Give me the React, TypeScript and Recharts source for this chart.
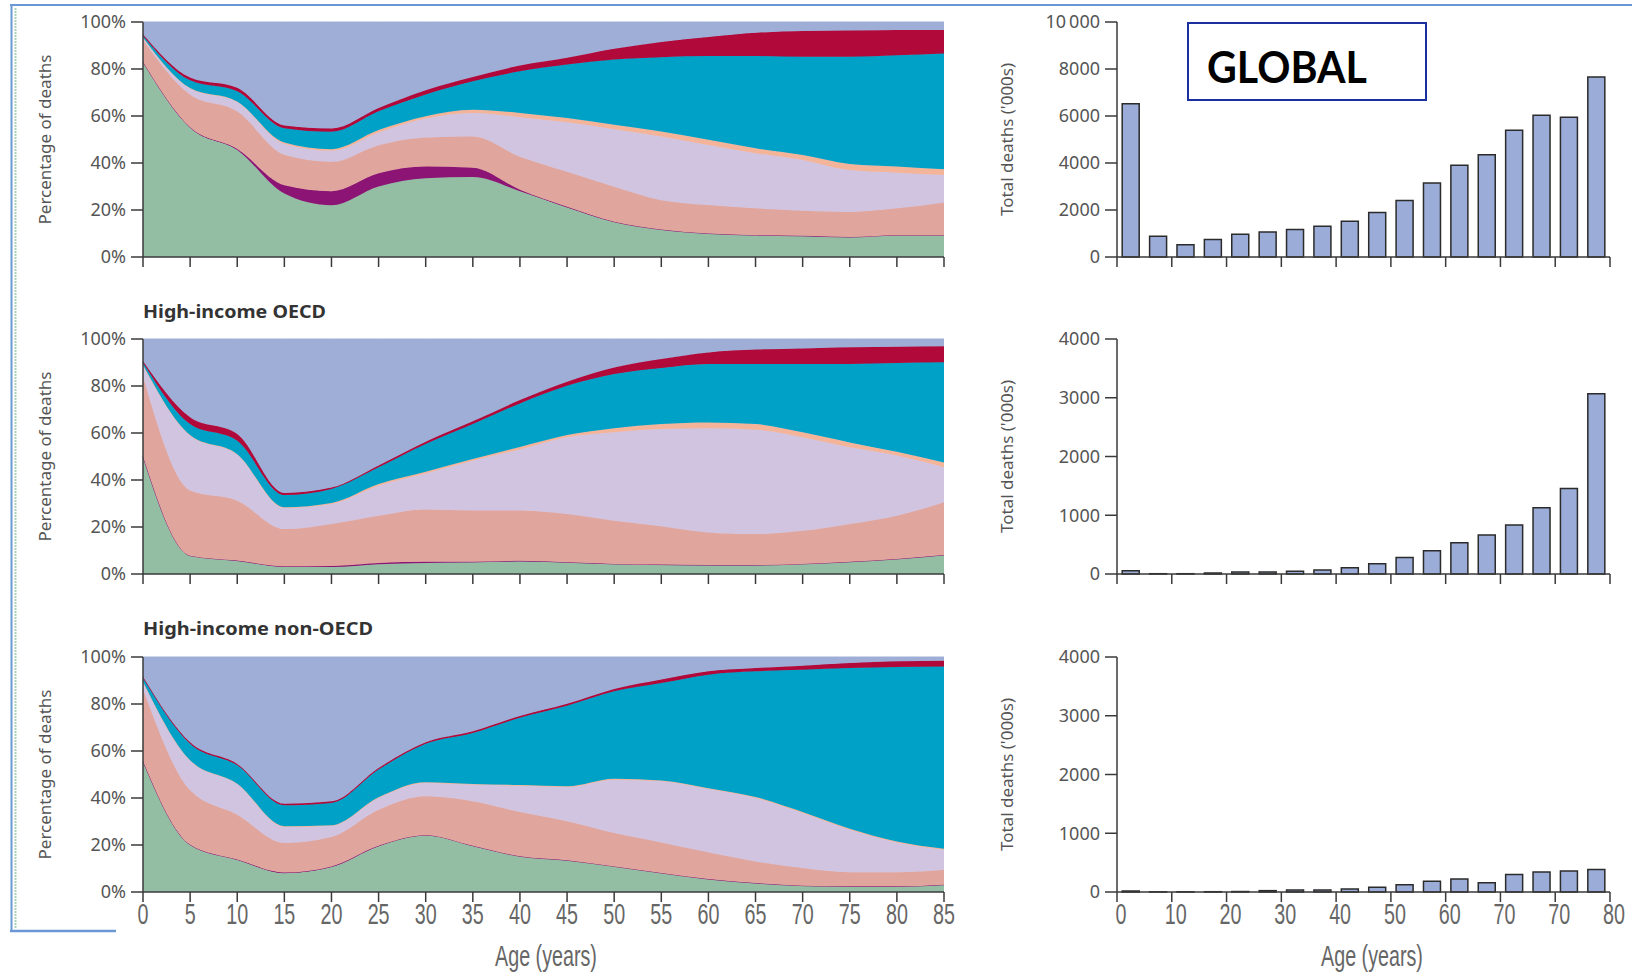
import { AreaChart, Area, BarChart, Bar, XAxis, YAxis } from "recharts";

// age groups (start of each 5-year band)
const ages = [0, 5, 10, 15, 20, 25, 30, 35, 40, 45, 50, 55, 60, 65, 70, 75, 80, 85];

// share of deaths by cause group, % (bottom layer first)
const globalGreen = [83, 55, 45.5, 27, 22, 30, 33.5, 34, 28, 21.1, 15, 11.7, 10, 9.3, 9, 8.5, 9.3, 9.3];
const globalPurple = [0, 0.2, 0.5, 3.5, 6, 5.6, 5, 4, 0.6, 0.3, 0, 0, 0, 0, 0, 0, 0, 0];
const globalSalmon = [9.5, 14, 16, 13, 12.5, 12, 12.4, 13.3, 14.1, 14.9, 14.9, 12.5, 12.1, 11.4, 10.7, 10.7, 11.4, 13.9];
const globalLavender = [0.7, 2.5, 4, 4.6, 4.7, 5.4, 8, 10, 16.8, 21, 24.5, 27.1, 25.6, 23.5, 21.6, 17.8, 15.2, 11.7];
const globalPeach = [0.2, 0.2, 0.2, 0.6, 0.7, 1, 1, 1.4, 1.8, 1.8, 1.9, 2.1, 2.2, 2.1, 2.1, 2.6, 2.6, 2.4];
const globalTeal = [0.8, 3.3, 4.3, 6.1, 7.4, 8, 9.3, 12.1, 17.7, 22.8, 27.7, 31.6, 35.6, 39.2, 41.8, 45.6, 47.3, 49.3];
const globalCrimson = [0.6, 1.2, 1.5, 1.2, 1.4, 1.4, 1.8, 1.8, 2.5, 2.9, 4.6, 6.5, 8.1, 9.9, 11, 11.2, 10.8, 10];
const globalOther = [5.2, 23.6, 28, 44, 45.3, 36.6, 29, 23.4, 18.5, 15.2, 11.4, 8.5, 6.4, 4.6, 3.8, 3.6, 3.4, 3.4];

const oecdGreen = [50, 7.8, 5.7, 3.1, 3, 4.2, 4.7, 5, 5.4, 5, 4.3, 4, 3.8, 3.8, 4.3, 5.2, 6.4, 8.1];
const oecdPurple = [0, 0, 0, 0.2, 0.4, 0.5, 0.5, 0.2, 0.2, 0, 0, 0, 0, 0, 0, 0, 0, 0];
const oecdSalmon = [34, 27.7, 25.5, 15.8, 17.9, 20.1, 22.2, 21.8, 21.4, 20.5, 18.4, 16.3, 13.9, 13.2, 14.1, 16.1, 18.4, 22.4];
const oecdLavender = [5, 23.4, 19.6, 9, 8.5, 12.8, 15.4, 21.2, 26, 32.7, 37.6, 41.4, 44.3, 44.4, 39.8, 32.6, 25.6, 14.9];
const oecdPeach = [0, 0.2, 0.2, 0.3, 0.4, 0.7, 0.7, 0.7, 1, 0.9, 1.7, 2.1, 2.5, 2.4, 2.1, 2.1, 1.6, 2.1];
const oecdTeal = [1, 4.7, 5.7, 5.2, 6, 7.1, 11.8, 14.9, 18.6, 21, 23.1, 23.9, 24.9, 25.6, 29.1, 33.4, 37.8, 42.6];
const oecdCrimson = [0.6, 2.9, 2.9, 0.9, 0.6, 0.8, 1, 1.2, 1.4, 1.7, 2.8, 3.8, 4.9, 6.1, 6.6, 7.1, 6.9, 6.8];
const oecdOther = [9.4, 33.3, 40.4, 65.5, 63.2, 53.8, 43.7, 35, 26, 18.2, 12.1, 8.5, 5.7, 4.5, 4, 3.5, 3.3, 3.1];

const nonOecdGreen = [55.6, 20.1, 13.8, 8, 10.6, 19.5, 24, 19.6, 15.2, 13.5, 10.9, 8.1, 5.5, 3.8, 2.7, 2.4, 2.4, 3.1];
const nonOecdPurple = [0, 0, 0, 0.3, 0.3, 0.2, 0.2, 0.1, 0, 0, 0, 0, 0, 0, 0, 0, 0, 0];
const nonOecdSalmon = [30.8, 23.2, 19.1, 12.6, 12.5, 15.3, 16.5, 18.9, 18.8, 16.6, 14.2, 13, 11.4, 9.2, 7.5, 6, 6, 6.4];
const nonOecdLavender = [3.2, 12.7, 13.1, 6.8, 4.8, 5, 5.7, 7.1, 11.2, 14.6, 22.7, 26, 26.9, 27, 23.4, 18.1, 12.7, 8.5];
const nonOecdPeach = [0, 0.1, 0.1, 0.3, 0.2, 0.3, 0.3, 0.3, 0.3, 0.3, 0.4, 0.4, 0.4, 0.4, 0.4, 0.4, 0.4, 0.4];
const nonOecdTeal = [1.5, 7, 7.8, 8.9, 9.5, 11.8, 16.4, 21.7, 28.7, 34.3, 37.2, 41.4, 48.3, 53.5, 60.6, 68.4, 74.2, 77.6];
const nonOecdCrimson = [0.5, 0.6, 0.6, 0.7, 0.7, 0.7, 0.6, 0.7, 0.7, 0.8, 1, 1.5, 1.4, 1.4, 1.7, 2.1, 2.5, 2.4];
const nonOecdOther = [8.4, 36.3, 45.5, 62.4, 61.4, 47.2, 36.3, 31.6, 25.1, 19.9, 13.6, 9.6, 6.1, 4.7, 3.7, 2.6, 1.8, 1.6];

// total deaths ('000s) per age group
const globalDeaths = [6525, 880, 525, 740, 965, 1065, 1165, 1305, 1520, 1890, 2400, 3150, 3900, 4355, 5390, 6030, 5945, 7660];
const oecdDeaths = [56, 5, 5, 17, 34, 34, 45, 68, 107, 175, 282, 394, 530, 665, 834, 1127, 1454, 3070];
const nonOecdDeaths = [17, 3, 3, 5, 8, 23, 34, 34, 51, 79, 124, 181, 221, 158, 300, 340, 356, 385];

const shareTicks = [0, 0.2, 0.4, 0.6, 0.8, 1];
const globalBarTicks = [0, 2000, 4000, 6000, 8000, 10000];
const regionBarTicks = [0, 1000, 2000, 3000, 4000];
// labels as printed under the bar panels, one every two bars
const barAxisLabels = ["0", "10", "20", "30", "40", "50", "60", "70", "70", "80"];

const layerKeys = ["green", "purple", "salmon", "lavender", "peach", "teal", "crimson", "other"];
const layerColors: Record<string, string> = {
  green: "#93bea4",
  purple: "#8b1474",
  salmon: "#e0a69e",
  lavender: "#d1c4e1",
  peach: "#f4b49a",
  teal: "#00a1c7",
  crimson: "#b0093a",
  other: "#9eaed6",
};

const AXIS = "#3a3a3a";
const GRAY = "#555";
const CONDENSED = "'Liberation Sans', Arial, sans-serif";

function makeRows(layers: number[][]) {
  return ages.map((age, i) => {
    const row: Record<string, number> = { age };
    layerKeys.forEach((k, j) => {
      row[k] = layers[j][i];
    });
    return row;
  });
}

const globalRows = makeRows([globalGreen, globalPurple, globalSalmon, globalLavender, globalPeach, globalTeal, globalCrimson, globalOther]);
const oecdRows = makeRows([oecdGreen, oecdPurple, oecdSalmon, oecdLavender, oecdPeach, oecdTeal, oecdCrimson, oecdOther]);
const nonOecdRows = makeRows([nonOecdGreen, nonOecdPurple, nonOecdSalmon, nonOecdLavender, nonOecdPeach, nonOecdTeal, nonOecdCrimson, nonOecdOther]);

function EmptyTick() {
  return <g />;
}

function condensedText(x: number, baseline: number, text: string) {
  return (
    <text
      transform={`translate(${x},${baseline}) scale(0.68,1)`}
      textAnchor="middle"
      fill="#666"
      fontSize={29}
      fontFamily={CONDENSED}
    >
      {text}
    </text>
  );
}

function AgeTick(props: any) {
  const { x, y, payload } = props;
  return condensedText(x, y + 20, String(payload.value));
}

// bar panels: tick marks sit on the band edges every second bar
function makeBarTick(showLabels: boolean) {
  return function BarTick(props: any) {
    const { x, y, payload } = props;
    const index = props.index ?? payload.index ?? 0;
    const half = payload.offset || 0;
    const marks: { x: number; label: string }[] = [];
    if (index % 2 === 0) marks.push({ x: x - half, label: barAxisLabels[index / 2] });
    if (index === ages.length - 1) marks.push({ x: x + half, label: barAxisLabels[barAxisLabels.length - 1] });
    return (
      <g>
        {marks.map((m) => (
          <g key={m.x}>
            <line x1={m.x} y1={y} x2={m.x} y2={y + 10} stroke={AXIS} strokeWidth={1.5} />
            {showLabels && condensedText(m.x + 4, y + 32, m.label)}
          </g>
        ))}
      </g>
    );
  };
}

function ShareChart({ rows, top, showAges }: { rows: any[]; top: number; showAges: boolean }) {
  const height = showAges ? 330 : 290;
  return (
    <div style={{ position: "absolute", left: 0, top }}>
      <AreaChart
        width={960}
        height={height}
        data={rows}
        stackOffset="expand"
        margin={{ top: 22, right: 16, bottom: height - 257 - 30, left: 0 }}
      >
        <XAxis
          dataKey="age"
          type="number"
          domain={[0, 85]}
          ticks={ages}
          interval={0}
          height={30}
          tickSize={10}
          stroke={AXIS}
          strokeWidth={1.5}
          tick={showAges ? AgeTick : EmptyTick}
        />
        <YAxis
          width={143}
          domain={[0, 1]}
          ticks={shareTicks}
          tickFormatter={(v: number) => `${Math.round(v * 100)}%`}
          tickSize={12}
          tickMargin={5}
          stroke={AXIS}
          strokeWidth={1.5}
          tick={{ fill: GRAY, fontSize: 18 }}
          label={{
            value: "Percentage of deaths",
            angle: -90,
            position: "insideLeft",
            offset: 45,
            style: { textAnchor: "middle", fill: GRAY, fontSize: 17 },
          }}
        />
        {layerKeys.map((k) => (
          <Area
            key={k}
            dataKey={k}
            stackId="1"
            type="monotone"
            fill={layerColors[k]}
            fillOpacity={1}
            stroke={layerColors[k]}
            strokeWidth={1}
            isAnimationActive={false}
          />
        ))}
      </AreaChart>
    </div>
  );
}

function DeathsChart({
  deaths,
  max,
  ticks,
  top,
  showAges,
}: {
  deaths: number[];
  max: number;
  ticks: number[];
  top: number;
  showAges: boolean;
}) {
  const height = showAges ? 330 : 290;
  const data = ages.map((age, i) => ({ age, deaths: deaths[i] }));
  return (
    <div style={{ position: "absolute", left: 960, top }}>
      <BarChart
        width={672}
        height={height}
        data={data}
        barCategoryGap="19%"
        margin={{ top: 22, right: 22, bottom: height - 257 - 30, left: 0 }}
      >
        <XAxis
          dataKey="age"
          interval={0}
          height={30}
          tickSize={0}
          tickMargin={0}
          tickLine={false}
          stroke={AXIS}
          strokeWidth={1.5}
          tick={makeBarTick(showAges)}
        />
        <YAxis
          width={157}
          domain={[0, max]}
          ticks={ticks}
          interval={0}
          tickFormatter={(v: number) => (v >= 10000 ? "10\u2009000" : String(v))}
          tickSize={12}
          tickMargin={5}
          stroke={AXIS}
          strokeWidth={1.5}
          tick={{ fill: GRAY, fontSize: 18 }}
          label={{
            value: "Total deaths ('000s)",
            angle: -90,
            position: "insideLeft",
            offset: 47,
            style: { textAnchor: "middle", fill: GRAY, fontSize: 17 },
          }}
        />
        <Bar dataKey="deaths" fill="#9cacd8" stroke="#2b2b2b" strokeWidth={1.5} isAnimationActive={false} />
      </BarChart>
    </div>
  );
}

export default function App() {
  return (
    <div
      style={{
        position: "absolute",
        left: 0,
        top: 0,
        width: 1632,
        height: 977,
        background: "#fff",
        fontFamily: "'Noto Sans', sans-serif",
        overflow: "hidden",
      }}
    >
      <ShareChart rows={globalRows} top={0} showAges={false} />
      <ShareChart rows={oecdRows} top={317} showAges={false} />
      <ShareChart rows={nonOecdRows} top={635} showAges={true} />

      <DeathsChart deaths={globalDeaths} max={10000} ticks={globalBarTicks} top={0} showAges={false} />
      <DeathsChart deaths={oecdDeaths} max={4000} ticks={regionBarTicks} top={317} showAges={false} />
      <DeathsChart deaths={nonOecdDeaths} max={4000} ticks={regionBarTicks} top={635} showAges={true} />

      <svg width={1632} height={977} style={{ position: "absolute", left: 0, top: 0, pointerEvents: "none" }}>
        {/* slide frame */}
        <line x1={10} y1={5} x2={1632} y2={5} stroke="#6a98d4" strokeWidth={2} />
        <line x1={11.5} y1={5} x2={11.5} y2={931} stroke="#6a98d4" strokeWidth={2} />
        <line x1={10} y1={931} x2={116} y2={931} stroke="#6a98d4" strokeWidth={2.5} />
        <line x1={15.5} y1={8} x2={15.5} y2={929} stroke="#a9d4b6" strokeWidth={2} strokeDasharray="2 1" />

        <text x={143} y={318} fontSize={18} fontWeight={700} fill="#333" textLength={183} lengthAdjust="spacingAndGlyphs">
          High-income OECD
        </text>
        <text x={143} y={635} fontSize={18} fontWeight={700} fill="#333" textLength={230} lengthAdjust="spacingAndGlyphs">
          High-income non-OECD
        </text>

        <text transform="translate(546,966) scale(0.68,1)" textAnchor="middle" fill="#666" fontSize={29} fontFamily={CONDENSED}>
          Age (years)
        </text>
        <text transform="translate(1372,966) scale(0.68,1)" textAnchor="middle" fill="#666" fontSize={29} fontFamily={CONDENSED}>
          Age (years)
        </text>

        <rect x={1188} y={23} width={238} height={77} fill="#fff" stroke="#1c2f9e" strokeWidth={2} />
        <text
          x={1207}
          y={83}
          fontSize={44}
          fontWeight={700}
          fill="#000"
          fontFamily="Lato, 'Open Sans', sans-serif"
          textLength={160}
          lengthAdjust="spacingAndGlyphs"
        >
          GLOBAL
        </text>
      </svg>
    </div>
  );
}
